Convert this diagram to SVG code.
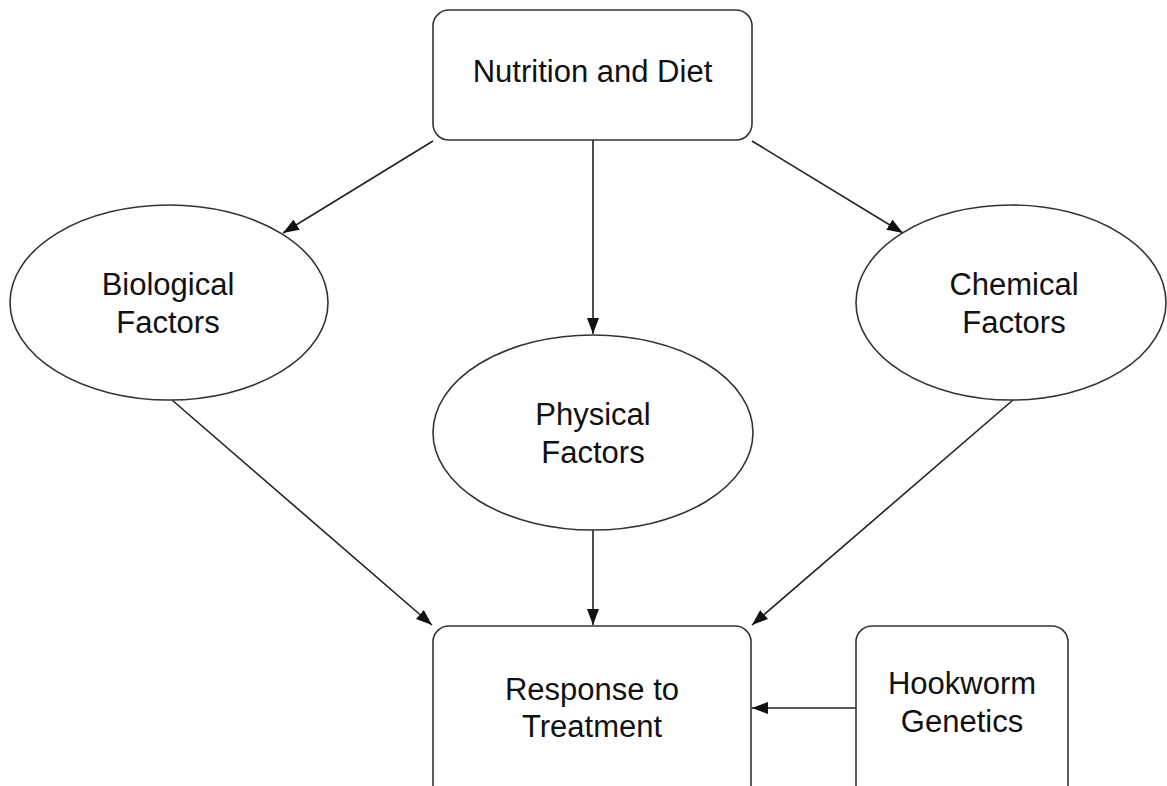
<svg xmlns="http://www.w3.org/2000/svg" width="1167" height="786" viewBox="0 0 1167 786">
<defs>
<style>
.node{fill:#fff;stroke:#333;stroke-width:1.6}
.lbl{font-family:"Liberation Sans",Arial,sans-serif;font-size:31px;fill:#111;text-anchor:middle}
.edge{stroke:#222;stroke-width:1.6;fill:none;marker-end:url(#arr)}
</style>
<marker id="arr" viewBox="0 0 16 12" refX="16" refY="6" markerWidth="16" markerHeight="12" markerUnits="userSpaceOnUse" orient="auto">
<path d="M0,0 L16,6 L0,12 Z" fill="#111"/>
</marker>
</defs>
<rect width="1167" height="786" fill="#fff"/>
<g id="connectors">
<line class="edge" x1="433" y1="141" x2="283" y2="233"/>
<line class="edge" x1="593" y1="140" x2="593" y2="334"/>
<line class="edge" x1="752" y1="141" x2="903" y2="233"/>
<line class="edge" x1="172" y1="400" x2="432" y2="625"/>
<line class="edge" x1="593" y1="530" x2="593" y2="625"/>
<line class="edge" x1="1013" y1="400" x2="752" y2="625"/>
<line class="edge" x1="856" y1="708" x2="752" y2="708"/>
</g>
<g id="nutrition">
<rect class="node" x="433" y="10" width="319" height="130" rx="16"/>
<text class="lbl" x="592.5" y="82">Nutrition and Diet</text>
</g>
<g id="biological">
<ellipse class="node" cx="169" cy="302.5" rx="159" ry="97.5"/>
<text class="lbl" x="168" y="295">Biological</text>
<text class="lbl" x="168" y="333">Factors</text>
</g>
<g id="physical">
<ellipse class="node" cx="593" cy="432.5" rx="160" ry="97.5"/>
<text class="lbl" x="593" y="425">Physical</text>
<text class="lbl" x="593" y="463">Factors</text>
</g>
<g id="chemical">
<ellipse class="node" cx="1011" cy="302.5" rx="155" ry="97.5"/>
<text class="lbl" x="1014" y="295">Chemical</text>
<text class="lbl" x="1014" y="333">Factors</text>
</g>
<g id="response">
<rect class="node" x="433" y="626" width="318" height="180" rx="16"/>
<text class="lbl" x="592" y="700">Response to</text>
<text class="lbl" x="592" y="737">Treatment</text>
</g>
<g id="hookworm">
<rect class="node" x="856" y="626" width="212" height="180" rx="16"/>
<text class="lbl" x="962" y="694">Hookworm</text>
<text class="lbl" x="962" y="732">Genetics</text>
</g>
</svg>
